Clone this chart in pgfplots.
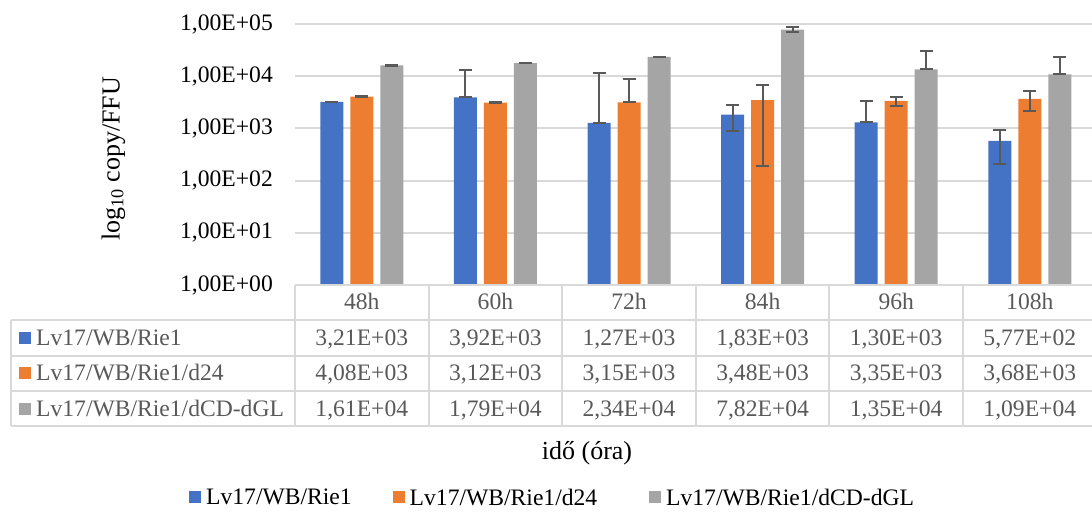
\documentclass[border=0pt]{standalone}
\usepackage{fontspec}
\setmainfont{Liberation Serif}
\usepackage{pgfplots}
\usepackage{pgfplotstable}
\pgfplotsset{compat=1.18}

\definecolor{sblue}{HTML}{4472C4}
\definecolor{sorange}{HTML}{ED7D31}
\definecolor{sgray}{HTML}{A5A5A5}
\definecolor{errc}{HTML}{595959}
\definecolor{gridc}{HTML}{D9D9D9}
\definecolor{txtc}{HTML}{595959}

\newcommand\lab{\fontsize{23.6bp}{28bp}\selectfont}
\newcommand\ttl{\fontsize{26bp}{31bp}\selectfont}

% copy/FFU per time point (48h ... 108h), with upper/lower error
\pgfplotstableread{
x y ep em
0 3210 30 30
1 3920 9050 0
2 1270 10100 0
3 1830 930 930
4 1300 2100 0
5 577 370 370
}\rieA
\pgfplotstableread{
x y ep em
0 4080 40 40
1 3120 30 30
2 3150 5690 0
3 3480 3290 3290
4 3350 630 630
5 3680 1540 1540
}\rieB
\pgfplotstableread{
x y ep em
0 16100 150 150
1 17900 150 150
2 23400 200 200
3 78200 8000 8000
4 13500 16900 0
5 10900 12100 0
}\rieC

\begin{document}
\begin{tikzpicture}
\useasboundingbox (0,0) rectangle (1092bp,-512bp);
\begin{axis}[
  at={(295bp,-285bp)}, anchor=south west,
  scale only axis, width=801.6bp, height=261bp,
  xmin=-0.5, xmax=5.5,
  ymode=log, ymin=1, ymax=100000, log origin=infty,
  axis line style={draw=none},
  tick style={draw=none},
  major tick length=0pt, minor tick length=0pt,
  xtick=\empty,
  ytick={1,10,100,1000,10000,100000},
  yticklabels={{1,00E+00},{1,00E+01},{1,00E+02},{1,00E+03},{1,00E+04},{1,00E+05}},
  yticklabel style={font=\lab, text=black, inner sep=0pt, anchor=east, xshift=-22bp},
  ymajorgrids, grid style={gridc, line width=2bp},
  ybar=7bp, bar width=23bp,
  legend columns=3,
  legend style={draw=none, fill=none, inner sep=0pt, font=\lab,
    at={(-0.1322,-0.7797)}, anchor=north west,
    nodes={inner sep=0pt},
    /tikz/column 1/.style={column sep=5bp},
    /tikz/column 2/.style={column sep=41bp},
    /tikz/column 3/.style={column sep=5bp},
    /tikz/column 4/.style={column sep=52bp},
    /tikz/column 5/.style={column sep=5bp}},
  legend cell align=left,
  legend image code/.code={\fill[#1] (0bp,-5.7bp) rectangle (12bp,6.3bp);},
  error bars/y dir=both, error bars/y explicit,
  error bars/error bar style={errc, line width=2bp},
  error bars/error mark options={rotate=90, draw=errc, line width=2bp, mark size=6.5bp},
]
\addplot[fill=sblue, draw=none] table[x=x, y=y, y error plus=ep, y error minus=em]{\rieA};
\addplot[fill=sorange, draw=none] table[x=x, y=y, y error plus=ep, y error minus=em]{\rieB};
\addplot[fill=sgray, draw=none] table[x=x, y=y, y error plus=ep, y error minus=em]{\rieC};
\legend{Lv17/WB/Rie1, Lv17/WB/Rie1/d24, Lv17/WB/Rie1/dCD-dGL}
\end{axis}

\begin{scope}[x=1bp, y=-1bp]
  % data table grid
  \begin{scope}[gridc, line width=2bp]
    \draw (295,285) -- (1100,285);
    \foreach \yy in {319.5,355.5,390.5,426} \draw (11,\yy) -- (1100,\yy);
    \draw (11,319.5) -- (11,426);
    \foreach \xx in {295,428.6,562.2,695.8,829.4,963} \draw (\xx,285) -- (\xx,426);
  \end{scope}
  % header and row labels
  \begin{scope}[every node/.style={font=\lab, text=txtc, inner sep=0pt}]
    \foreach \lbl [count=\i from 0] in {48h,60h,72h,84h,96h,108h}
      \node[anchor=base] at (361.8+133.6*\i,309.5) {\lbl};
    \fill[sblue]   (19,331.7) rectangle (31,343.7);
    \fill[sorange] (19,366.7) rectangle (31,378.7);
    \fill[sgray]   (19,402.7) rectangle (31,414.7);
    \node[anchor=base west] at (36,345) {Lv17/WB/Rie1};
    \node[anchor=base west] at (36,380) {Lv17/WB/Rie1/d24};
    \node[anchor=base west] at (36,416) {Lv17/WB/Rie1/dCD-dGL};
    \foreach \v [count=\i from 0] in {{3,21E+03},{3,92E+03},{1,27E+03},{1,83E+03},{1,30E+03},{5,77E+02}}
      \node[anchor=base] at (361.8+133.6*\i,345) {\v};
    \foreach \v [count=\i from 0] in {{4,08E+03},{3,12E+03},{3,15E+03},{3,48E+03},{3,35E+03},{3,68E+03}}
      \node[anchor=base] at (361.8+133.6*\i,380) {\v};
    \foreach \v [count=\i from 0] in {{1,61E+04},{1,79E+04},{2,34E+04},{7,82E+04},{1,35E+04},{1,09E+04}}
      \node[anchor=base] at (361.8+133.6*\i,416) {\v};
  \end{scope}
  % axis titles
  \node[font=\ttl, rotate=90, inner sep=0pt] at (113.5,159) {log\textsubscript{10} copy/FFU};
  \node[font=\ttl, anchor=base, inner sep=0pt] at (587,459) {idő (óra)};
\end{scope}
\end{tikzpicture}
\end{document}
